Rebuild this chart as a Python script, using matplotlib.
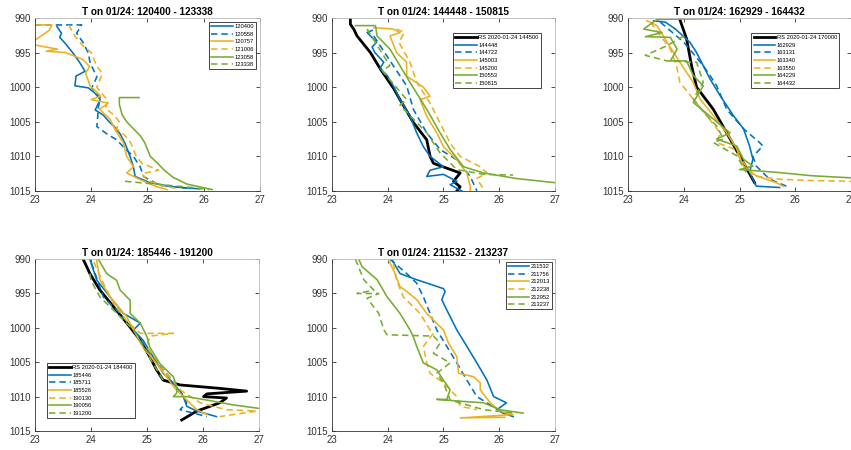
import matplotlib
matplotlib.use("Agg")
import matplotlib.pyplot as plt

plt.rcParams['font.family'] = ['Liberation Sans', 'DejaVu Sans']

BLUE = '#0072BD'
ORANGE = '#EDB120'
GREEN = '#77AC30'

# ---- panel 1: 120400 - 123338 ----
T_120400 = [23.39, 23.47, 23.44, 23.53, 23.68, 23.80, 23.89, 23.73, 23.71, 23.95, 24.07, 24.16, 24.07, 24.21,
            24.33, 24.40, 24.51, 24.60, 24.69, 24.75, 24.78, 25.04, 25.46, 25.93]
P_120400 = [991.2, 992.2, 992.8, 993.6, 995.1, 996.5, 997.7, 998.4, 999.8, 1000.1, 1000.9, 1001.8, 1003.3, 1004.0,
            1005.1, 1005.6, 1006.7, 1008.1, 1010.0, 1011.5, 1012.9, 1013.8, 1014.4, 1014.7]
T_120558 = [23.0, 23.83, 23.74, 23.86, 23.95, 23.98, 24.10, 24.01, 24.16, 24.13, 24.10, 24.27, 24.45,
            24.63, 24.75, 24.87, 24.93, 25.22, 25.70]
P_120558 = [991.0, 991.0, 992.2, 993.6, 995.1, 996.5, 998.5, 1000.1, 1001.4, 1002.8, 1005.7, 1006.7, 1007.6,
            1009.1, 1010.0, 1011.5, 1012.9, 1014.2, 1014.6]
T_120757 = [23.0, 23.3, 23.25, 23.0, 23.0, 23.4, 23.2, 23.55, 23.85, 23.97, 23.9, 23.98, 24.17, 24.0, 24.3,
            24.15, 24.33, 24.45, 24.57, 24.63, 24.75, 24.63, 24.88, 25.17, 25.35]
P_120757 = [991.0, 991.0, 991.8, 993.2, 993.9, 994.5, 994.8, 995.0, 996.0, 997.0, 998.0, 999.8, 1001.3,
            1001.8, 1002.3, 1003.2, 1004.6, 1006.5, 1008.0, 1010.0, 1011.5, 1012.4, 1013.4, 1014.4, 1014.8]
T_121006 = [23.6, 23.7, 23.85, 24.0, 24.05, 24.1, 24.2, 24.15, 24.1, 24.2, 24.3, 24.25, 24.4, 24.5, 24.45,
            24.6, 24.7, 24.75, 24.8, 24.9, 25.2, 24.9, 25.0, 25.3, 25.5]
P_121006 = [991.0, 992.5, 994.0, 995.0, 996.0, 997.0, 998.0, 999.0, 1000.0, 1001.0, 1002.0, 1003.0, 1004.0,
            1005.0, 1006.0, 1007.0, 1008.0, 1009.0, 1010.0, 1011.0, 1012.0, 1012.5, 1013.5, 1014.3, 1014.6]
T_123058 = [24.85, 24.5, 24.5, 24.55, 24.63, 24.75, 24.87, 24.95, 25.0, 25.05, 25.18, 25.3, 25.45, 25.7,
            25.93, 26.15]
P_123058 = [1001.5, 1001.5, 1002.5, 1004.0, 1005.0, 1006.0, 1007.0, 1008.0, 1009.0, 1010.0, 1011.0, 1012.0,
            1013.0, 1014.0, 1014.4, 1014.8]
T_123338 = [24.6, 25.0, 25.4, 25.8, 26.1]
P_123338 = [1013.6, 1013.9, 1014.2, 1014.5, 1014.8]

# ---- panel 2: 144448 - 150815 ----
T_rs_144500 = [23.33, 23.33, 23.39, 23.45, 23.69, 23.87, 24.10, 24.22, 24.46, 24.70, 24.76, 24.82, 25.06,
               25.30, 25.18, 25.30, 25.24]
P_rs_144500 = [990.0, 990.9, 991.6, 992.6, 995.0, 997.4, 1000.1, 1001.8, 1005.1, 1007.6, 1010.0, 1011.0,
               1011.7, 1012.4, 1013.6, 1014.4, 1015.0]
T_144448 = [23.72, 23.63, 23.80, 23.72, 23.77, 23.93, 23.86, 23.99, 24.10, 24.22, 24.40, 24.52, 24.64, 24.76,
            25.00, 24.76, 24.70, 25.00, 25.24, 25.12, 25.33]
P_144448 = [991.8, 992.1, 993.5, 994.2, 995.0, 996.4, 997.3, 998.3, 999.8, 1001.8, 1004.2, 1006.6, 1008.6,
            1010.0, 1011.5, 1012.0, 1012.9, 1012.6, 1013.6, 1014.1, 1015.0]
T_144722 = [23.75, 24.10, 24.34, 24.46, 24.70, 24.94, 25.24, 25.48, 25.60]
P_144722 = [992.6, 996.9, 999.8, 1003.2, 1006.6, 1009.0, 1010.5, 1012.9, 1015.0]
T_145003 = [23.75, 24.10, 24.22, 24.04, 24.16, 24.34, 24.34, 24.64, 24.76, 24.58, 24.70, 24.88, 25.0,
            25.24, 25.42, 25.48, 25.48]
P_145003 = [991.4, 991.6, 992.1, 992.6, 995.0, 996.4, 998.4, 1000.0, 1001.3, 1001.8, 1004.2, 1006.6,
            1008.6, 1010.5, 1012.4, 1014.3, 1015.0]
T_145200 = [24.16, 24.3, 24.2, 24.4, 24.52, 24.76, 24.94, 25.12, 25.3, 25.66, 25.78, 25.6, 25.7]
P_145200 = [991.6, 992.1, 993.5, 996.4, 999.3, 1002.3, 1005.2, 1008.1, 1010.0, 1011.5, 1012.4, 1013.2,
            1014.5]
T_150553 = [23.42, 23.78, 23.81, 24.04, 24.22, 24.46, 24.70, 24.94, 25.12, 25.36, 25.72, 26.31, 27.0]
P_150553 = [991.1, 991.1, 992.6, 994.5, 996.9, 1000.1, 1003.2, 1006.6, 1009.0, 1011.5, 1012.4, 1013.2,
            1013.8]
T_150815 = [23.63, 24.04, 23.90, 24.34, 24.22, 24.70, 24.94, 25.24, 25.72, 26.25]
P_150815 = [991.6, 996.9, 997.6, 1001.8, 1002.6, 1006.6, 1009.5, 1011.9, 1012.6, 1012.7]

# ---- panel 3: 162929 - 164432 ----
T_rs_170000 = [23.92, 24.05, 24.14, 24.23, 24.53, 24.77, 25.0, 25.27]
P_rs_170000 = [990.0, 993.0, 996.9, 1000.0, 1003.2, 1006.6, 1009.9, 1013.8]
T_162929 = [23.46, 23.67, 23.85, 24.11, 24.23, 24.35, 24.47, 24.65, 24.89, 25.07, 25.18, 25.24, 25.18,
            25.30, 25.72]
P_162929 = [990.4, 990.6, 991.6, 993.5, 995.0, 996.9, 998.8, 1001.2, 1004.1, 1006.0, 1008.5, 1010.4,
            1012.3, 1014.3, 1014.5]
T_163131 = [23.58, 24.0, 24.35, 24.47, 24.59, 24.77, 25.07, 25.36, 25.42, 25.24, 25.30, 25.54, 25.84]
P_163131 = [990.6, 993.5, 996.9, 998.3, 999.8, 1003.2, 1006.0, 1008.0, 1008.5, 1010.0, 1011.4, 1013.3,
            1014.3]
T_163340 = [23.34, 23.52, 23.70, 23.93, 24.17, 24.29, 24.53, 24.77, 24.95, 25.07, 25.30, 25.66, 25.78]
P_163340 = [990.4, 991.1, 993.5, 996.4, 999.3, 1001.7, 1004.1, 1006.6, 1008.9, 1011.4, 1012.8, 1013.8,
            1014.3]
T_163550 = [23.40, 23.76, 23.87, 23.93, 24.17, 24.41, 24.65, 24.59, 24.89, 25.12, 25.24, 25.72, 26.3, 27.0]
P_163550 = [990.6, 994.5, 996.9, 999.3, 1001.7, 1004.1, 1006.6, 1008.0, 1008.9, 1011.4, 1012.8, 1013.3,
            1013.5, 1013.6]
T_164229 = [24.5, 23.52, 23.28, 23.61, 23.31, 23.76, 23.88, 23.76, 24.05, 24.17, 24.35, 24.17, 24.53,
            24.83, 24.59, 24.95, 25.07, 25.24, 25.0, 25.66, 26.3, 27.0]
P_164229 = [990.1, 990.2, 991.6, 992.1, 992.7, 992.8, 994.5, 996.2, 996.2, 998.3, 999.8, 1002.2, 1004.6,
            1006.6, 1007.5, 1008.5, 1010.4, 1011.4, 1011.9, 1012.3, 1012.8, 1013.1]
T_164432 = [24.0, 23.70, 23.31, 23.70, 24.23, 24.35, 24.17, 24.41, 24.59, 24.71, 24.53, 24.95, 25.12]
P_164432 = [992.6, 994.0, 995.4, 996.2, 996.4, 999.3, 1001.7, 1004.1, 1005.6, 1007.5, 1008.0, 1009.9,
            1012.3]

# ---- panel 4: 185446 - 191200 ----
T_rs_184400 = [23.86, 23.98, 24.16, 24.40, 24.64, 24.88, 25.05, 25.17, 25.29, 25.59, 26.30, 26.78, 26.07,
               26.01, 26.42, 26.30, 26.13, 25.89, 25.62]
P_rs_184400 = [990.0, 992.1, 994.5, 996.9, 999.3, 1001.8, 1004.2, 1006.1, 1007.6, 1008.3, 1008.8, 1009.2,
               1009.6, 1010.0, 1010.2, 1010.9, 1011.4, 1012.1, 1013.4]
T_185446 = [23.98, 24.10, 24.34, 24.58, 24.88, 24.76, 24.93, 25.11, 25.29, 25.47, 25.65, 25.71, 25.89, 26.24]
P_185446 = [990.0, 993.0, 995.5, 997.9, 999.3, 1000.3, 1001.8, 1004.2, 1006.6, 1008.0, 1010.0, 1011.4,
            1012.1, 1012.9]
T_185711 = [24.01, 24.22, 24.52, 24.76, 25.05, 25.35, 25.59, 25.71, 25.59, 25.83, 26.07]
P_185711 = [990.6, 995.5, 997.9, 1000.3, 1003.7, 1006.6, 1009.0, 1010.9, 1011.9, 1012.4, 1012.9]
T_185526 = [24.10, 24.16, 24.34, 24.64, 24.76, 24.93, 25.17, 25.35, 25.47, 25.71, 25.89, 26.07]
P_185526 = [990.1, 993.0, 995.5, 998.4, 1000.3, 1002.8, 1005.2, 1007.1, 1008.5, 1010.5, 1011.9, 1012.6]
T_190130 = [24.05, 24.22, 24.40, 24.64, 24.88, 25.47, 25.05, 25.0, 25.35, 25.59, 25.95, 26.42, 26.96, 26.30]
P_190130 = [990.4, 993.5, 996.4, 999.0, 1000.8, 1000.8, 1001.2, 1002.8, 1006.6, 1009.0, 1010.9, 1011.9,
            1012.1, 1012.9]
T_190056 = [24.13, 24.28, 24.46, 24.52, 24.70, 24.70, 24.88, 25.0, 25.05, 25.23, 25.47, 25.53, 25.53,
            25.47, 25.71, 26.07, 26.54, 26.99]
P_190056 = [990.0, 992.1, 993.1, 994.5, 996.0, 997.9, 999.3, 1001.3, 1002.8, 1005.2, 1007.1, 1008.5,
            1009.5, 1010.0, 1010.0, 1010.5, 1011.2, 1011.7]
T_191200 = [23.98, 24.0, 24.16, 24.46, 24.76, 24.93, 25.11, 25.29]
P_191200 = [992.1, 993.1, 995.5, 997.9, 1000.3, 1002.7, 1005.2, 1007.6]

# ---- panel 5: 211532 - 213237 ----
T_211532 = [24.07, 24.22, 24.52, 24.82, 25.0, 25.03, 24.97, 25.06, 25.24, 25.42, 25.60, 25.78, 25.90,
            26.13, 25.96, 26.07, 26.25]
P_211532 = [990.0, 992.1, 993.0, 993.8, 994.3, 994.7, 995.9, 997.4, 1000.3, 1002.7, 1005.1, 1007.6,
            1010.0, 1010.9, 1011.9, 1012.4, 1012.9]
T_211756 = [24.04, 24.34, 24.52, 24.64, 24.76, 24.88, 25.06, 25.24, 25.42, 25.60, 25.78, 26.01]
P_211756 = [990.0, 992.1, 993.5, 995.5, 997.9, 1000.3, 1002.7, 1005.1, 1007.6, 1010.0, 1010.9, 1012.1]
T_212013 = [24.01, 24.13, 24.22, 24.31, 24.52, 24.70, 25.0, 25.09, 25.24, 25.27, 25.54, 25.66, 25.66,
            25.84, 26.01, 26.25, 25.30, 26.10]
P_212013 = [990.0, 992.1, 994.0, 994.5, 995.9, 997.9, 1000.3, 1002.2, 1004.2, 1006.6, 1007.1, 1008.0,
            1009.0, 1010.9, 1012.1, 1012.6, 1013.1, 1013.0]
T_212238 = [24.10, 24.16, 24.28, 24.58, 24.76, 24.82, 24.64, 24.70, 24.76, 25.0, 25.24, 25.30, 25.60]
P_212238 = [990.6, 993.1, 995.5, 997.9, 1000.3, 1000.8, 1002.7, 1005.1, 1006.6, 1008.0, 1010.0, 1011.4,
            1011.9]
T_212952 = [23.48, 23.54, 23.81, 23.99, 24.22, 24.40, 24.46, 24.52, 24.64, 24.88, 25.0, 25.12, 25.06,
            24.88, 25.36, 25.72, 26.01, 26.43]
P_212952 = [990.0, 991.1, 993.0, 995.5, 997.9, 1000.3, 1001.3, 1002.7, 1005.1, 1006.1, 1007.6, 1009.0,
            1010.4, 1010.4, 1010.7, 1010.9, 1011.9, 1012.4]
T_213237 = [23.42, 23.57, 23.75, 23.45, 23.84, 23.63, 23.84, 23.93, 23.99, 24.82, 24.94, 24.82, 25.12,
            24.88, 25.0, 25.12, 25.72, 26.31]
P_213237 = [990.0, 993.0, 994.5, 995.0, 995.0, 995.7, 997.9, 1000.3, 1001.0, 1001.2, 1002.2, 1003.7,
            1005.1, 1006.6, 1008.0, 1010.5, 1011.9, 1012.4]

panels = [
    dict(title='T on 01/24: 120400 - 123338', rect=[0.0411, 0.5756, 0.2644, 0.3844],
         rs=None,
         series=[(T_120400, P_120400, '120400'), (T_120558, P_120558, '120558'),
                 (T_120757, P_120757, '120757'), (T_121006, P_121006, '121006'),
                 (T_123058, P_123058, '123058'), (T_123338, P_123338, '123338')],
         loc='upper right', anchor=(0.982, 0.977)),
    dict(title='T on 01/24: 144448 - 150815', rect=[0.3901, 0.5756, 0.2620, 0.3844],
         rs=(T_rs_144500, P_rs_144500, 'RS 2020-01-24 144500'),
         series=[(T_144448, P_144448, '144448'), (T_144722, P_144722, '144722'),
                 (T_145003, P_145003, '145003'), (T_145200, P_145200, '145200'),
                 (T_150553, P_150553, '150553'), (T_150815, P_150815, '150815')],
         loc='upper right', anchor=(0.937, 0.913)),
    dict(title='T on 01/24: 162929 - 164432', rect=[0.738, 0.5756, 0.2620, 0.3844],
         rs=(T_rs_170000, P_rs_170000, 'RS 2020-01-24 170000'),
         series=[(T_162929, P_162929, '162929'), (T_163131, P_163131, '163131'),
                 (T_163340, P_163340, '163340'), (T_163550, P_163550, '163550'),
                 (T_164229, P_164229, '164229'), (T_164432, P_164432, '164432')],
         loc='upper right', anchor=(0.946, 0.913)),
    dict(title='T on 01/24: 185446 - 191200', rect=[0.0411, 0.0422, 0.2632, 0.382],
         rs=(T_rs_184400, P_rs_184400, 'RS 2020-01-24 184400'),
         series=[(T_185446, P_185446, '185446'), (T_185711, P_185711, '185711'),
                 (T_185526, P_185526, '185526'), (T_190130, P_190130, '190130'),
                 (T_190056, P_190056, '190056'), (T_191200, P_191200, '191200')],
         loc='lower left', anchor=(0.054, 0.076)),
    dict(title='T on 01/24: 211532 - 213237', rect=[0.3901, 0.0422, 0.2620, 0.382],
         rs=None,
         series=[(T_211532, P_211532, '211532'), (T_211756, P_211756, '211756'),
                 (T_212013, P_212013, '212013'), (T_212238, P_212238, '212238'),
                 (T_212952, P_212952, '212952'), (T_213237, P_213237, '213237')],
         loc='upper right', anchor=(0.987, 0.983)),
]

colors = [BLUE, BLUE, ORANGE, ORANGE, GREEN, GREEN]
styles = ['-', '--', '-', '--', '-', '--']

fig = plt.figure(figsize=(8.51, 4.5), dpi=100)

for pan in panels:
    ax = fig.add_axes(pan['rect'])
    if pan['rs'] is not None:
        t, p, lab = pan['rs']
        ax.plot(t, p, color='black', lw=2.0, label=lab)
    for (t, p, lab), c, ls in zip(pan['series'], colors, styles):
        ax.plot(t, p, color=c, ls=ls, lw=1.15, label=lab,
                dashes=(4, 2.5) if ls == '--' else (None, None))
    ax.set_xlim(23, 27)
    ax.set_ylim(1015, 990)
    ax.set_xticks([23, 24, 25, 26, 27])
    ax.set_yticks([990, 995, 1000, 1005, 1010, 1015])
    ax.tick_params(direction='in', top=True, right=True, labelsize=7, length=3,
                   width=0.6, colors='#333333', pad=3)
    for sp in ax.spines.values():
        sp.set_linewidth(0.6)
        sp.set_color('#333333')
    ax.spines['top'].set_color('#bbbbbb')
    ax.spines['right'].set_color('#bbbbbb')
    ax.set_title(pan['title'], fontsize=7.2, fontweight='bold', pad=2)
    leg = ax.legend(loc=pan['loc'], bbox_to_anchor=pan['anchor'], fontsize=4.15,
                    handlelength=3.8, handletextpad=0.2, labelspacing=0.45,
                    borderpad=0.35, borderaxespad=0.0, fancybox=False, framealpha=1)
    leg.get_frame().set_edgecolor('#262626')
    leg.get_frame().set_linewidth(0.6)

fig.savefig('out.png', dpi=100)
